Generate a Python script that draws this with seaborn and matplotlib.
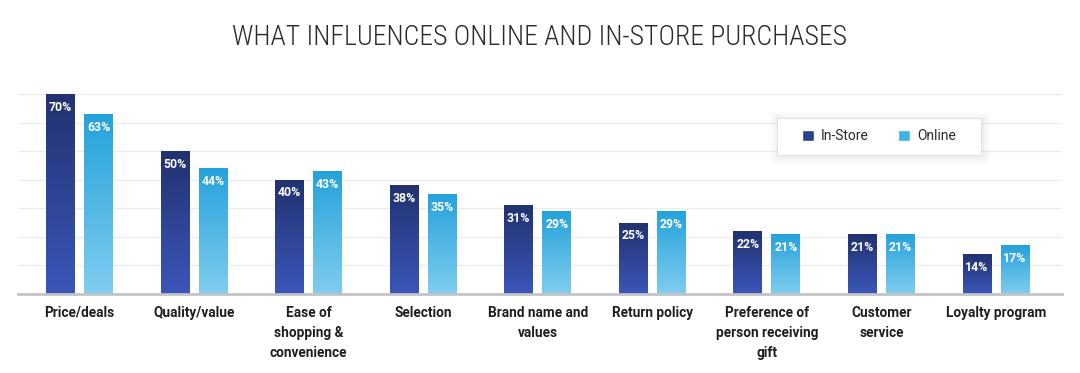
import numpy as np
import pandas as pd
import seaborn as sns
from matplotlib import pyplot as plt
from matplotlib import font_manager
from matplotlib.colors import LinearSegmentedColormap
from matplotlib.patches import Patch, Rectangle

# data (percent of shoppers)
factors = ['Price/deals', 'Quality/value', 'Ease of\nshopping &\nconvenience',
           'Selection', 'Brand name and\nvalues', 'Return policy',
           'Preference of\nperson receiving\ngift', 'Customer\nservice',
           'Loyalty program']
in_store = [70, 50, 40, 38, 31, 25, 22, 21, 14]
online = [63, 44, 43, 35, 29, 29, 21, 21, 17]
channels = ['In-Store', 'Online']

df = pd.DataFrame({
    'factor': factors * 2,
    'pct': in_store + online,
    'channel': [channels[0]] * len(factors) + [channels[1]] * len(factors),
})

sns.set_style('white')
installed = {f.name for f in font_manager.fontManager.ttflist}
base = 'Roboto' if 'Roboto' in installed else 'DejaVu Sans'
plt.rcParams['font.family'] = [base, 'DejaVu Sans']
if 'Roboto Condensed' in installed:
    title_font, title_size = 'Roboto Condensed', 20
else:
    title_font, title_size = base, 16.3

# bottom colour, top colour of each bar gradient
grads = {'In-Store': ('#3a56b9', '#223270'),
         'Online': ('#80cdef', '#25a2db')}
solid = ['#2c3f8f', '#3fb1e3']

fig = plt.figure(figsize=(10.8, 3.73), dpi=100)
ax = fig.add_axes([18 / 1080, 79 / 373, 1044 / 1080, 205.7 / 373])

sns.barplot(data=df, x='factor', y='pct', hue='channel', hue_order=channels,
            palette=solid, saturation=1, width=0.664, gap=0.24,
            errorbar=None, legend=False, ax=ax)

# swap flat fills for vertical gradients, label each bar inside its top
ramp = np.linspace(0, 1, 200).reshape(-1, 1)
for channel, cont in zip(channels, ax.containers):
    cmap = LinearSegmentedColormap.from_list(channel, grads[channel])
    for bar in cont:
        x0, w, h = bar.get_x(), bar.get_width(), bar.get_height()
        im = ax.imshow(ramp, extent=[x0, x0 + w, 0, h], origin='lower',
                       aspect='auto', cmap=cmap, zorder=2)
        im.set_clip_path(bar)
        bar.set_facecolor('none')
        bar.set_edgecolor('none')
        ax.annotate(f'{h:.0f}%', (x0 + w / 2, h), xytext=(0, -9.4),
                    textcoords='offset points', ha='center', va='center',
                    color='white', fontweight='bold', fontsize=8.8, zorder=3)

ax.set_xlim(-0.537, 8.576)
ax.set_ylim(0, 72)
ax.set_yticks(range(0, 71, 10))
ax.set_axisbelow(True)
ax.yaxis.grid(True, color='#ececec', linewidth=1)
ax.tick_params(axis='y', left=False, labelleft=False)
ax.tick_params(axis='x', length=0, pad=8.5)
ax.set_xticks(range(len(factors)))
ax.set_xticklabels(factors, fontweight='bold', fontsize=9.8, color='#1e1e1e',
                   linespacing=1.55)
ax.set_xlabel('')
ax.set_ylabel('')
sns.despine(ax=ax, left=True)
ax.spines['bottom'].set_color('#c4c4c4')
ax.spines['bottom'].set_linewidth(2)

# legend card with a soft shadow
bx, by, bw, bh = 777, 155, 204, 37
for i in range(5):
    s = 1.5 * (i + 1)
    ax.add_patch(Rectangle(((bx - s + 1) / 1080, 1 - (by + s + 2) / 373),
                           (bw + 2 * s) / 1080, (bh + 2 * s) / 373,
                           transform=fig.transFigure, facecolor='black',
                           alpha=0.012, edgecolor='none', zorder=4,
                           clip_on=False))
ax.add_patch(Rectangle((bx / 1080, 1 - by / 373), bw / 1080, bh / 373,
                       transform=fig.transFigure, facecolor='white',
                       edgecolor='#e2e2e2', linewidth=0.8, zorder=4.5,
                       clip_on=False))
handles = [Patch(facecolor=c) for c in solid]
leg = ax.legend(handles, channels, loc='center', bbox_to_anchor=(0.8247, 0.7657),
                ncol=2, frameon=False, handlelength=0.86, handleheight=0.86,
                handletextpad=0.5, columnspacing=2.1, fontsize=10,
                borderaxespad=0)
for t in leg.get_texts():
    t.set_color('#2a2a2a')
leg.set_zorder(5)

fig.text(0.5, 1 - 45 / 373, 'WHAT INFLUENCES ONLINE AND IN-STORE PURCHASES',
         ha='center', va='baseline', fontsize=title_size, fontweight='light',
         family=title_font, color='#2a2a2a')

fig.savefig('out.png', dpi=100)
